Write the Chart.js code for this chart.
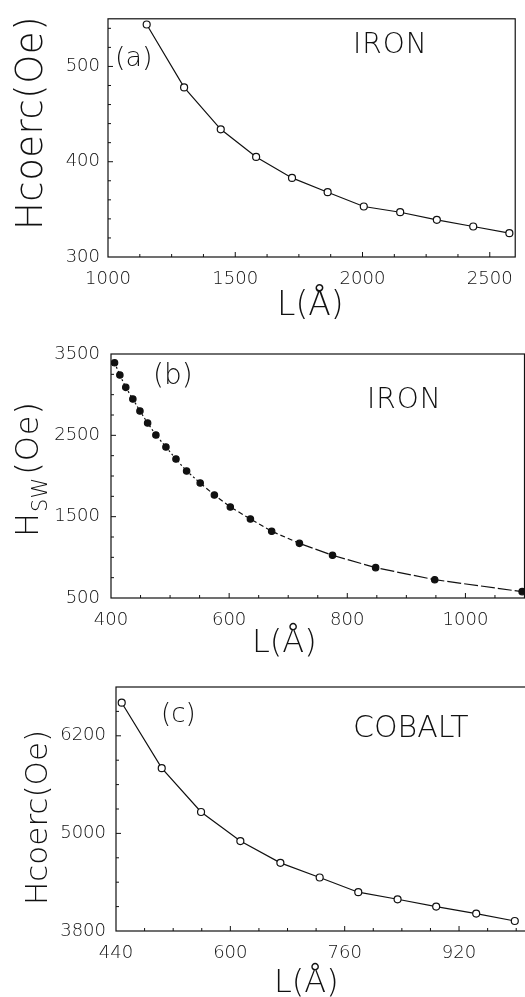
<!DOCTYPE html>
<html>
<head>
<meta charset="utf-8">
<script src="https://cdn.jsdelivr.net/npm/chart.js@4.4.1/dist/chart.umd.min.js"></script>
<style>
  html, body { margin: 0; padding: 0; background: #fff; }
  #wrap { position: relative; width: 525px; height: 997px; overflow: hidden; background: #fff; }
  #wrap canvas { position: absolute; left: 0; }
</style>
</head>
<body>
<div id="wrap">
  <canvas id="panelA" width="525" height="330" style="top:0px"></canvas>
  <canvas id="panelB" width="530" height="330" style="top:330px"></canvas>
  <canvas id="panelC" width="550" height="337" style="top:660px"></canvas>
</div>
<script>
// (a) iron, coercive field vs length
const ironCoercL = [1152, 1299, 1443, 1582, 1723, 1863, 2005, 2148, 2292, 2435, 2577];
const ironCoercH = [544, 478, 434, 405, 383, 368, 353, 347, 339, 332, 325];

// (b) iron, switching field vs length
const ironSwL = [406, 415, 425, 437, 449, 462, 476, 493, 510, 528, 551, 575, 602, 636, 672, 719, 775, 848, 948, 1096];
const ironSwH = [3393, 3242, 3090, 2947, 2799, 2652, 2504, 2357, 2209, 2061, 1914, 1766, 1619, 1471, 1320, 1172, 1025, 873, 725, 578];

// (c) cobalt, coercive field vs length
const cobaltL = [448, 504, 559, 614, 670, 725, 779, 834, 888, 944, 998];
const cobaltH = [6607, 5802, 5263, 4906, 4638, 4458, 4277, 4190, 4100, 4014, 3923];

// tick labels
const aXTicks = [1000, 1500, 2000, 2500];
const aYTicks = [300, 400, 500];
const bXTicks = [400, 600, 800, 1000];
const bYTicks = [500, 1500, 2500, 3500];
const cXTicks = [440, 600, 760, 920];
const cYTicks = [3800, 5000, 6200];

const FONT = "'DejaVu Sans', 'Liberation Sans', sans-serif";
const INK = "#111";

// box + inward tick marks
const framePlugin = {
    id: "frame",
    beforeDatasetsDraw(chart, args, o) {
        const { ctx, chartArea, scales } = chart;
        const { left, right, top, bottom } = chartArea;
        ctx.save();
        ctx.strokeStyle = INK;
        ctx.lineWidth = 1.2;
        ctx.strokeRect(left, top, right - left, bottom - top);
        ctx.lineWidth = 1;
        const nx = Math.round((scales.x.max - scales.x.min) / o.xMinor);
        for (let i = 1; i < nx; i++) {
            const v = scales.x.min + i * o.xMinor;
            const px = scales.x.getPixelForValue(v);
            const len = o.xMajor.includes(v) ? 5 : 3;
            ctx.beginPath();
            ctx.moveTo(px, bottom);
            ctx.lineTo(px, bottom - len);
            ctx.stroke();
        }
        const ny = Math.round((scales.y.max - scales.y.min) / o.yMinor);
        for (let i = 1; i < ny; i++) {
            const v = scales.y.min + i * o.yMinor;
            const py = scales.y.getPixelForValue(v);
            const len = o.yMajor.includes(v) ? 5 : 3;
            ctx.beginPath();
            ctx.moveTo(left, py);
            ctx.lineTo(left + len, py);
            ctx.stroke();
        }
        ctx.restore();
    },
    afterDraw(chart, args, o) {
        const ctx = chart.ctx;
        ctx.save();
        ctx.fillStyle = INK;
        ctx.textAlign = "left";
        ctx.textBaseline = "alphabetic";
        // panel tag and metal name
        for (const t of o.texts) {
            ctx.font = "200 " + t.size + "px " + FONT;
            ctx.letterSpacing = (t.ls || 0) + "px";
            ctx.fillText(t.text, t.x, t.y);
        }
        // rotated y title, drawn in pieces for the subscript
        ctx.translate(o.yTitle.x, o.yTitle.y);
        ctx.rotate(-Math.PI / 2);
        let pos = 0;
        for (const p of o.yTitle.parts) {
            ctx.font = "200 " + p.size + "px " + FONT;
            ctx.letterSpacing = (p.ls || 0) + "px";
            ctx.fillText(p.t, pos, p.dy || 0);
            pos += ctx.measureText(p.t).width + (p.gap || 0);
        }
        ctx.restore();
    }
};

function makePanel(id, cfg) {
    const points = cfg.L.map((v, i) => ({ x: v, y: cfg.H[i] }));
    new Chart(document.getElementById(id), {
        type: "line",
        data: {
            datasets: [{
                data: points,
                borderColor: INK,
                borderWidth: 1.2,
                tension: 0,
                pointRadius: cfg.filled ? 3.2 : 3.5,
                pointBackgroundColor: cfg.filled ? INK : "#fff",
                pointBorderColor: INK,
                pointBorderWidth: 1.2,
                segment: cfg.segment || {}
            }]
        },
        options: {
            responsive: false,
            animation: false,
            layout: { padding: { left: 0, top: cfg.padTop, right: cfg.padRight, bottom: 0 } },
            plugins: {
                legend: { display: false },
                tooltip: { enabled: false },
                frame: {
                    xMinor: cfg.xMinor, yMinor: cfg.yMinor,
                    xMajor: cfg.xTicks, yMajor: cfg.yTicks,
                    texts: cfg.texts, yTitle: cfg.yTitle
                }
            },
            scales: {
                x: {
                    type: "linear",
                    min: cfg.xMin, max: cfg.xMax,
                    grid: { display: false, drawTicks: false },
                    border: { display: false },
                    afterFit: (s) => { s.height = cfg.xH; },
                    afterBuildTicks: (s) => { s.ticks = cfg.xTicks.map((v) => ({ value: v })); },
                    ticks: {
                        color: INK, padding: 12, maxRotation: 0, autoSkip: false,
                        font: { family: FONT, size: 18, weight: "200" },
                        callback: (v) => String(v)
                    }
                },
                y: {
                    type: "linear",
                    min: cfg.yMin, max: cfg.yMax,
                    grid: { display: false, drawTicks: false },
                    border: { display: false },
                    afterFit: (s) => { s.width = cfg.yW; },
                    afterBuildTicks: (s) => { s.ticks = cfg.yTicks.map((v) => ({ value: v })); },
                    ticks: {
                        color: INK, padding: cfg.yPad, autoSkip: false,
                        font: { family: FONT, size: 18, weight: "200" },
                        callback: (v) => String(v)
                    }
                }
            }
        },
        plugins: [framePlugin]
    });
}

makePanel("panelA", {
    L: ironCoercL, H: ironCoercH,
    xMin: 1000, xMax: 2600, yMin: 300, yMax: 550,
    xTicks: aXTicks, yTicks: aYTicks, xMinor: 125, yMinor: 20,
    padTop: 14, padRight: 3, yW: 108, xH: 73, yPad: 8,
    texts: [
        { text: "(a)", x: 115, y: 66, size: 27 },
        { text: "IRON", x: 353, y: 53, size: 28, ls: 1 },
        { text: "L(Å)", x: 277, y: 315, size: 33 }
    ],
    yTitle: { x: 42, y: 230, parts: [{ t: "Hcoerc(Oe)", size: 37, ls: 0.5 }] }
});

makePanel("panelB", {
    L: ironSwL, H: ironSwH, filled: true,
    xMin: 400, xMax: 1100, yMin: 500, yMax: 3500,
    xTicks: bXTicks, yTicks: bYTicks, xMinor: 50, yMinor: 250,
    padTop: 24, padRight: 5.5, yW: 111, xH: 62, yPad: 11,
    segment: {
        borderDash: (c) => c.p0DataIndex < 10 ? [2, 2.5] : (c.p0DataIndex < 15 ? [5, 3] : [14, 3])
    },
    texts: [
        { text: "(b)", x: 153, y: 54, size: 28 },
        { text: "IRON", x: 367, y: 78, size: 28, ls: 1 },
        { text: "L(Å)", x: 252, y: 322, size: 32 }
    ],
    yTitle: { x: 38, y: 207, parts: [
        { t: "H", size: 32, gap: 1 },
        { t: "SW", size: 21, dy: 9, gap: 3 },
        { t: "(Oe)", size: 32, ls: 1 }
    ] }
});

makePanel("panelC", {
    L: cobaltL, H: cobaltH,
    xMin: 440, xMax: 1040, yMin: 3800, yMax: 6800,
    xTicks: cXTicks, yTicks: cYTicks, xMinor: 40, yMinor: 300,
    padTop: 27, padRight: 4, yW: 116, xH: 66, yPad: 10,
    texts: [
        { text: "(c)", x: 161, y: 62, size: 26 },
        { text: "COBALT", x: 353, y: 77, size: 30 },
        { text: "L(Å)", x: 274, y: 332, size: 32 }
    ],
    yTitle: { x: 47, y: 245, parts: [{ t: "Hcoerc(Oe)", size: 31 }] }
});
</script>
</body>
</html>
